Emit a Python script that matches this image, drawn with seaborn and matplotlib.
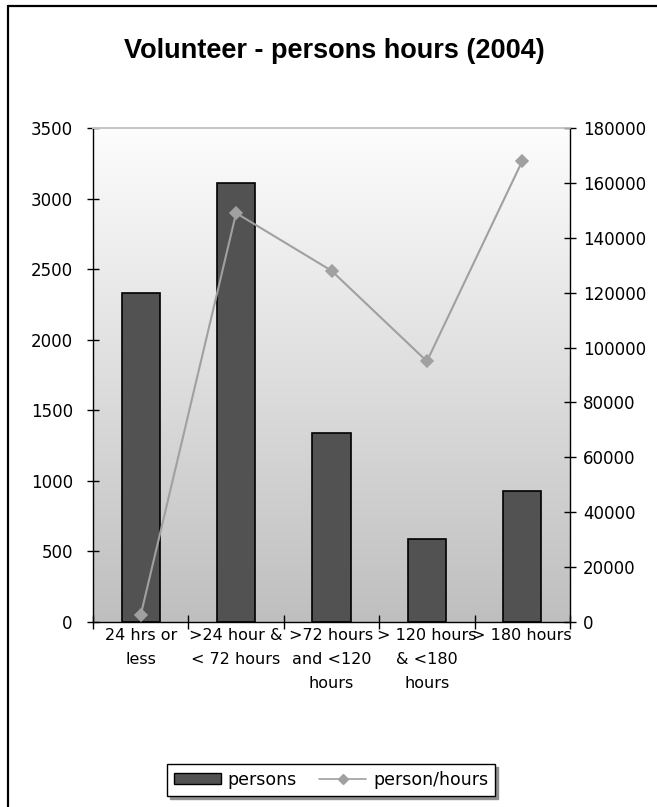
import numpy as np
import matplotlib
matplotlib.use("Agg")
import matplotlib.pyplot as plt
from matplotlib.colors import LinearSegmentedColormap
from matplotlib.patches import Patch
from matplotlib.lines import Line2D
import seaborn as sns

# Volunteer data, 2004
categories = ["24 hrs or\nless", ">24 hour &\n< 72 hours", ">72 hours\nand <120\nhours",
              "> 120 hours\n& <180\nhours", "> 180 hours"]
persons = [2330, 3110, 1340, 590, 930]
person_hours = [2500, 149000, 128000, 95000, 168000]
left_ticks = [0, 500, 1000, 1500, 2000, 2500, 3000, 3500]
right_ticks = [0, 20000, 40000, 60000, 80000, 100000, 120000, 140000, 160000, 180000]

sns.set_theme(style="white")
plt.rcParams["font.family"] = ["DejaVu Sans"]
plt.rcParams["text.color"] = "black"

W, H = 657, 807
fig = plt.figure(figsize=(W / 100, H / 100), dpi=100)
fig.patch.set_facecolor("white")

x0, x1, ytop, ybot = 93, 570, 128, 622
ax = fig.add_axes([x0 / W, 1 - ybot / H, (x1 - x0) / W, (ybot - ytop) / H])
ax.patch.set_visible(False)

BAR = "#525252"
LINE = "#a0a0a0"

sns.barplot(x=categories, y=persons, ax=ax, color=BAR, saturation=1,
            edgecolor="black", linewidth=1.2, width=0.4, zorder=2)

# vertical grey gradient behind the plot
grad = np.linspace(0, 1, 256).reshape(-1, 1)
cmap = LinearSegmentedColormap.from_list("bg", ["#bfbfbf", "#fdfdfd"])
ax.imshow(grad, extent=(-0.5, 4.5, 0, 3500), origin="lower", aspect="auto",
          cmap=cmap, zorder=0, interpolation="bilinear")

ax2 = ax.twinx()
sns.pointplot(x=categories, y=person_hours, ax=ax2, color=LINE, markers="D",
              markersize=6, linewidth=1.5)

for a in (ax, ax2):
    a.set_xlim(-0.5, 4.5)
ax.set_ylim(0, 3500)
ax2.set_ylim(0, 180000)

ax.set_yticks(left_ticks)
ax.set_yticklabels([str(t) for t in left_ticks])
ax2.set_yticks(right_ticks)
ax2.set_yticklabels([str(t) for t in right_ticks])

ax.set_xticks(range(len(categories)))
ax.set_xticklabels(categories, linespacing=1.75, fontsize=11.5)
ax.set_xticks(np.arange(-0.5, 5, 1), minor=True)
ax.tick_params(axis="x", which="major", length=0, pad=4, colors="black")
ax.tick_params(axis="x", which="minor", length=10, direction="inout",
               width=1, color="black", bottom=True)
ax.tick_params(axis="y", which="major", length=9, direction="inout", width=1,
               pad=10, labelsize=12, left=True, color="black", labelcolor="black")
ax2.tick_params(axis="y", which="major", length=9, direction="inout", width=1,
                pad=5, labelsize=12, right=True, color="black", labelcolor="black")
ax.set_xlabel("")
ax.set_ylabel("")
ax2.set_ylabel("")
ax2.set_xlabel("")

for a in (ax, ax2):
    for s in ("left", "right", "bottom"):
        a.spines[s].set_color("black")
        a.spines[s].set_linewidth(1)
    a.spines["top"].set_color("#c4c4c4")
    a.spines["top"].set_linewidth(1.2)
ax.spines["right"].set_visible(False)
ax2.spines["left"].set_visible(False)
ax2.spines["bottom"].set_visible(False)

fig.text(334 / W, 1 - 51 / H, "Volunteer - persons hours (2004)",
         ha="center", va="center", fontsize=19.5, fontweight="bold", color="black",
         family=["Liberation Sans", "DejaVu Sans"])

handles = [Patch(facecolor=BAR, edgecolor="black", linewidth=1),
           Line2D([], [], color=LINE, marker="D", markersize=5, linewidth=1.2)]
leg = fig.legend(handles, ["persons", "person/hours"], loc="center",
                 bbox_to_anchor=(331 / W, 1 - 780 / H), ncol=2, frameon=True,
                 fancybox=False, edgecolor="black", facecolor="white", framealpha=1,
                 shadow={"color": "#909090", "alpha": 1}, fontsize=12.5,
                 handlelength=2.7, handleheight=0.6, columnspacing=1.3,
                 handletextpad=0.4, borderpad=0.4, borderaxespad=0)
leg.get_frame().set_linewidth(1)
for t in leg.get_texts():
    t.set_color("black")

# outer chart frame (top and left edges)
fig.add_artist(Line2D([8 / W, 1], [1 - 6 / H, 1 - 6 / H], color="black", lw=1.6,
                      transform=fig.transFigure))
fig.add_artist(Line2D([8 / W, 8 / W], [0, 1 - 6 / H], color="black", lw=1.6,
                      transform=fig.transFigure))

fig.savefig("out.png", dpi=100, facecolor="white")
